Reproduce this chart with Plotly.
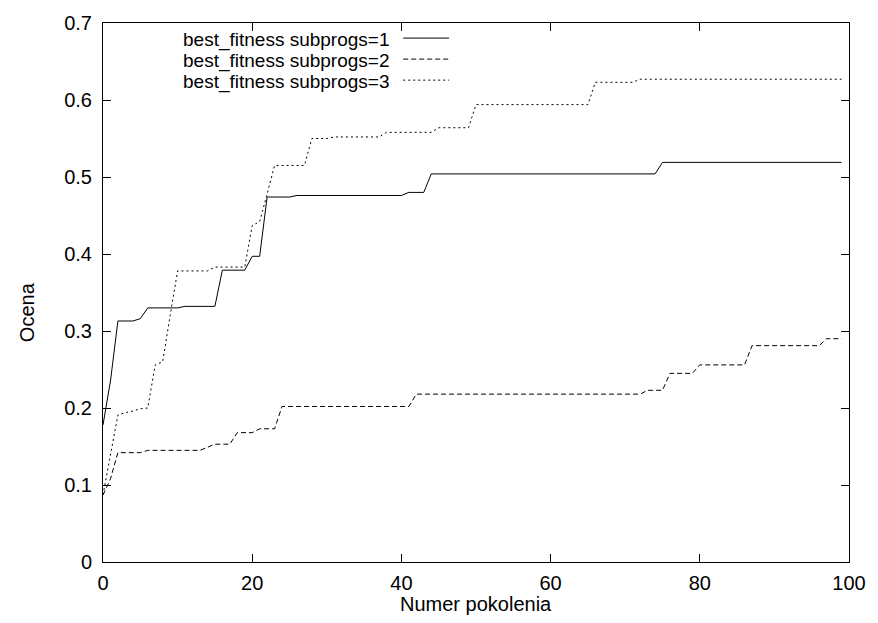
import plotly.graph_objects as go

generations = list(range(100))

subprogs_1 = [
    0.178, 0.235, 0.313, 0.313, 0.313, 0.316, 0.330, 0.330, 0.330, 0.330,
    0.330, 0.332, 0.332, 0.332, 0.332, 0.332, 0.379, 0.379, 0.379, 0.379,
    0.397, 0.397, 0.474, 0.474, 0.474, 0.474, 0.476, 0.476, 0.476, 0.476,
    0.476, 0.476, 0.476, 0.476, 0.476, 0.476, 0.476, 0.476, 0.476, 0.476,
    0.476, 0.480, 0.480, 0.480, 0.504, 0.504, 0.504, 0.504, 0.504, 0.504,
    0.504, 0.504, 0.504, 0.504, 0.504, 0.504, 0.504, 0.504, 0.504, 0.504,
    0.504, 0.504, 0.504, 0.504, 0.504, 0.504, 0.504, 0.504, 0.504, 0.504,
    0.504, 0.504, 0.504, 0.504, 0.504, 0.519, 0.519, 0.519, 0.519, 0.519,
    0.519, 0.519, 0.519, 0.519, 0.519, 0.519, 0.519, 0.519, 0.519, 0.519,
    0.519, 0.519, 0.519, 0.519, 0.519, 0.519, 0.519, 0.519, 0.519, 0.519,
]

subprogs_2 = [
    0.087, 0.108, 0.142, 0.142, 0.142, 0.142, 0.145, 0.145, 0.145, 0.145,
    0.145, 0.145, 0.145, 0.145, 0.149, 0.153, 0.153, 0.153, 0.168, 0.168,
    0.168, 0.173, 0.173, 0.173, 0.202, 0.202, 0.202, 0.202, 0.202, 0.202,
    0.202, 0.202, 0.202, 0.202, 0.202, 0.202, 0.202, 0.202, 0.202, 0.202,
    0.202, 0.202, 0.218, 0.218, 0.218, 0.218, 0.218, 0.218, 0.218, 0.218,
    0.218, 0.218, 0.218, 0.218, 0.218, 0.218, 0.218, 0.218, 0.218, 0.218,
    0.218, 0.218, 0.218, 0.218, 0.218, 0.218, 0.218, 0.218, 0.218, 0.218,
    0.218, 0.218, 0.218, 0.223, 0.223, 0.223, 0.245, 0.245, 0.245, 0.245,
    0.256, 0.256, 0.256, 0.256, 0.256, 0.256, 0.256, 0.281, 0.281, 0.281,
    0.281, 0.281, 0.281, 0.281, 0.281, 0.281, 0.281, 0.290, 0.290, 0.290,
]

subprogs_3 = [
    0.087, 0.140, 0.191, 0.194, 0.196, 0.199, 0.200, 0.256, 0.260, 0.320,
    0.378, 0.378, 0.378, 0.378, 0.378, 0.383, 0.383, 0.383, 0.383, 0.383,
    0.437, 0.442, 0.478, 0.515, 0.515, 0.515, 0.515, 0.515, 0.550, 0.550,
    0.550, 0.552, 0.552, 0.552, 0.552, 0.552, 0.552, 0.552, 0.558, 0.558,
    0.558, 0.558, 0.558, 0.558, 0.558, 0.564, 0.564, 0.564, 0.564, 0.564,
    0.594, 0.594, 0.594, 0.594, 0.594, 0.594, 0.594, 0.594, 0.594, 0.594,
    0.594, 0.594, 0.594, 0.594, 0.594, 0.594, 0.623, 0.623, 0.623, 0.623,
    0.623, 0.623, 0.627, 0.627, 0.627, 0.627, 0.627, 0.627, 0.627, 0.627,
    0.627, 0.627, 0.627, 0.627, 0.627, 0.627, 0.627, 0.627, 0.627, 0.627,
    0.627, 0.627, 0.627, 0.627, 0.627, 0.627, 0.627, 0.627, 0.627, 0.627,
]

series_names = [
    "best_fitness subprogs=1",
    "best_fitness subprogs=2",
    "best_fitness subprogs=3",
]
series_values = [subprogs_1, subprogs_2, subprogs_3]
series_dash = ["solid", "5px,3px", "2px,3px"]

x_ticks = [0, 20, 40, 60, 80, 100]
y_ticks = [0, 0.1, 0.2, 0.3, 0.4, 0.5, 0.6, 0.7]
y_tick_text = ["0", "0.1", "0.2", "0.3", "0.4", "0.5", "0.6", "0.7"]

FONT = "Liberation Sans, Arial, Helvetica, sans-serif"
FS = 20
LEG_FS = 19

fig = go.Figure()
for name, vals, dash in zip(series_names, series_values, series_dash):
    fig.add_trace(go.Scatter(
        x=generations, y=vals, mode="lines", name=name,
        line=dict(color="black", width=1, dash=dash),
        showlegend=False, hoverinfo="x+y",
    ))

# gnuplot-style legend: text right-aligned, sample line on the right
legend_y = [0.969, 0.930, 0.891]
for name, dash, ly in zip(series_names, series_dash, legend_y):
    fig.add_annotation(
        x=0.388, y=ly, xref="paper", yref="paper", text=name,
        showarrow=False, xanchor="right", yanchor="middle",
        font=dict(family=FONT, size=LEG_FS, color="black"),
    )
    fig.add_shape(
        type="line", xref="paper", yref="paper",
        x0=0.4024, x1=0.464, y0=ly + 0.003, y1=ly + 0.003,
        line=dict(color="black", width=1, dash=dash),
    )

fig.add_annotation(
    x=0.5, y=-0.0788, xref="paper", yref="paper", text="Numer pokolenia",
    showarrow=False, xanchor="center", yanchor="middle",
    font=dict(family=FONT, size=FS, color="black"),
)
fig.add_annotation(
    x=-0.1009, y=0.463, xref="paper", yref="paper", text="Ocena",
    showarrow=False, xanchor="center", yanchor="middle", textangle=-90,
    font=dict(family=FONT, size=FS, color="black"),
)

axis_common = dict(
    showline=True, linecolor="black", linewidth=1, mirror="ticks",
    ticks="inside", ticklen=8, tickcolor="black", tickwidth=1,
    showgrid=False, zeroline=False,
    tickfont=dict(family=FONT, size=FS, color="black"),
)

fig.update_layout(
    width=878, height=623,
    margin=dict(l=103, r=22, t=16, b=61),
    paper_bgcolor="white", plot_bgcolor="white",
    xaxis=dict(range=[0, 100], tickvals=x_ticks, ticklabelstandoff=3, **axis_common),
    yaxis=dict(range=[0, 0.7], tickvals=y_ticks, ticktext=y_tick_text,
               ticklabelstandoff=6, **axis_common),
)

fig.write_html("out.html")
